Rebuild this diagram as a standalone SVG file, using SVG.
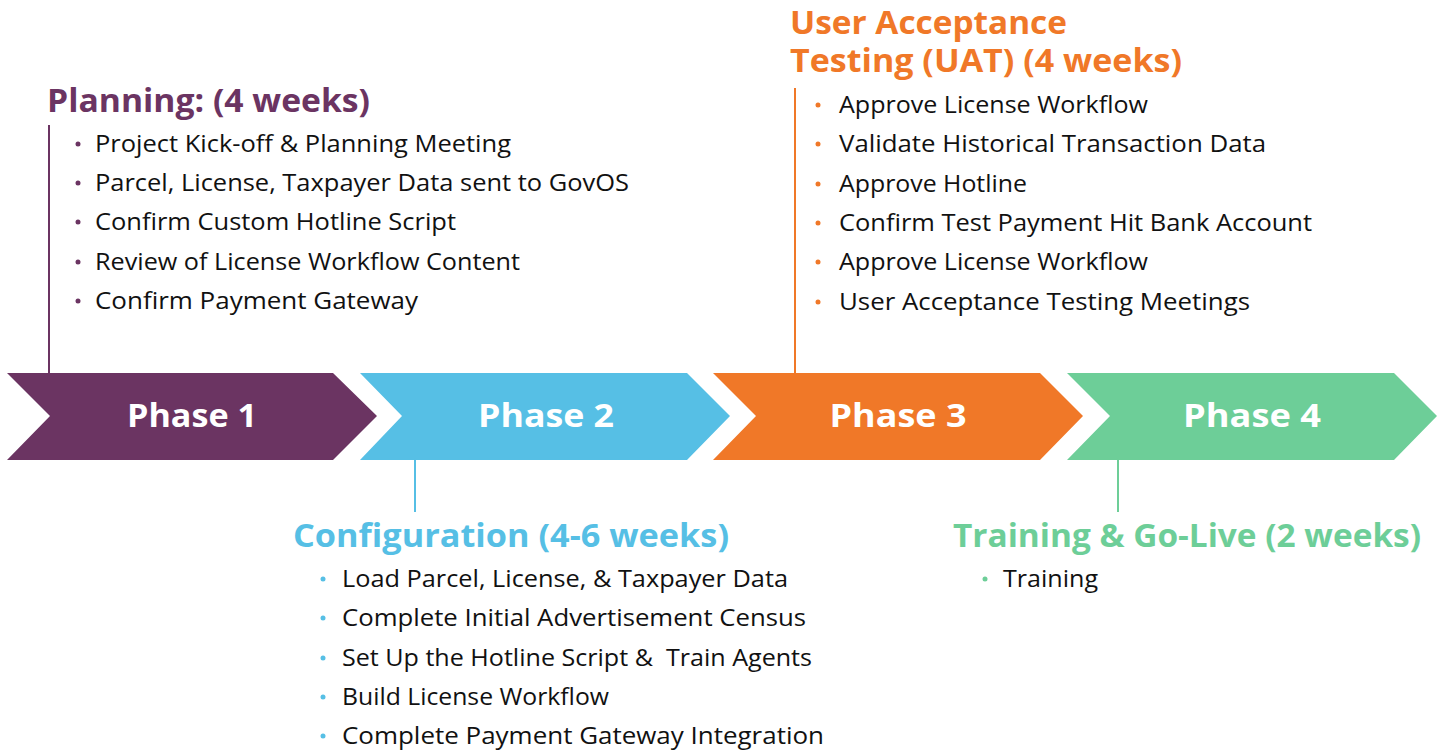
<svg xmlns="http://www.w3.org/2000/svg" width="1445" height="750" viewBox="0 0 1445 750">
<style>
.ph{font-family:"Open Sans","Liberation Sans",sans-serif;font-weight:700;font-size:33px;fill:#fff;text-anchor:middle}
.hd{font-family:"Open Sans","Liberation Sans",sans-serif;font-weight:700;font-size:32px}
.it{font-family:"Open Sans","Liberation Sans",sans-serif;font-size:24px;fill:#111}
.p1{fill:#6B3462}.p2{fill:#56BFE5}.p3{fill:#F07828}.p4{fill:#6DCE98}
.c1{stroke:#6B3462}.c2{stroke:#56BFE5}.c3{stroke:#F07828}.c4{stroke:#6DCE98}
</style>
<rect width="1445" height="750" fill="#fff"/>
<g id="connectors" stroke-width="2" fill="none">
<line class="c1" x1="49" y1="125" x2="49" y2="374"/>
<line class="c2" x1="415" y1="459" x2="415" y2="512"/>
<line class="c3" x1="795" y1="88" x2="795" y2="374"/>
<line class="c4" x1="1118" y1="459" x2="1118" y2="512"/>
</g>
<g id="phase1">
<polygon class="p1" points="7,373 333,373 377,416 333,460 7,460 50,416"/>
<text class="ph" x="192" y="427" textLength="130" lengthAdjust="spacingAndGlyphs">Phase 1</text>
</g>
<g id="phase2">
<polygon class="p2" points="360,373 687,373 730,416 687,460 360,460 402,416"/>
<text class="ph" x="546" y="427" textLength="136" lengthAdjust="spacingAndGlyphs">Phase 2</text>
</g>
<g id="phase3">
<polygon class="p3" points="713,373 1040,373 1083,416 1040,460 713,460 756,416"/>
<text class="ph" x="898" y="427" textLength="137" lengthAdjust="spacingAndGlyphs">Phase 3</text>
</g>
<g id="phase4">
<polygon class="p4" points="1067,373 1394,373 1437,416 1394,460 1067,460 1110,416"/>
<text class="ph" x="1252" y="427" textLength="138" lengthAdjust="spacingAndGlyphs">Phase 4</text>
</g>
<g id="planning">
<text class="hd p1" x="47" y="112" textLength="323" lengthAdjust="spacingAndGlyphs">Planning: (4 weeks)</text>
<g class="p1"><circle cx="78" cy="144" r="2.5"/><circle cx="78" cy="183" r="2.5"/><circle cx="78" cy="222" r="2.5"/><circle cx="78" cy="262" r="2.5"/><circle cx="78" cy="301" r="2.5"/></g>
<text class="it" x="95" y="152" textLength="416" lengthAdjust="spacingAndGlyphs">Project Kick-off &amp; Planning Meeting</text>
<text class="it" x="95" y="191" textLength="534" lengthAdjust="spacingAndGlyphs">Parcel, License, Taxpayer Data sent to GovOS</text>
<text class="it" x="95" y="230" textLength="361" lengthAdjust="spacingAndGlyphs">Confirm Custom Hotline Script</text>
<text class="it" x="95" y="270" textLength="425" lengthAdjust="spacingAndGlyphs">Review of License Workflow Content</text>
<text class="it" x="95" y="309" textLength="323" lengthAdjust="spacingAndGlyphs">Confirm Payment Gateway</text>
</g>
<g id="uat">
<text class="hd p3" x="790" y="34" textLength="277" lengthAdjust="spacingAndGlyphs">User Acceptance</text>
<text class="hd p3" x="790" y="72" textLength="392" lengthAdjust="spacingAndGlyphs">Testing (UAT) (4 weeks)</text>
<g class="p3"><circle cx="818" cy="105" r="2.5"/><circle cx="818" cy="144" r="2.5"/><circle cx="818" cy="184" r="2.5"/><circle cx="818" cy="223" r="2.5"/><circle cx="818" cy="262" r="2.5"/><circle cx="818" cy="302" r="2.5"/></g>
<text class="it" x="839" y="113" textLength="309" lengthAdjust="spacingAndGlyphs">Approve License Workflow</text>
<text class="it" x="839" y="152" textLength="427" lengthAdjust="spacingAndGlyphs">Validate Historical Transaction Data</text>
<text class="it" x="839" y="192" textLength="188" lengthAdjust="spacingAndGlyphs">Approve Hotline</text>
<text class="it" x="839" y="231" textLength="473" lengthAdjust="spacingAndGlyphs">Confirm Test Payment Hit Bank Account</text>
<text class="it" x="839" y="270" textLength="309" lengthAdjust="spacingAndGlyphs">Approve License Workflow</text>
<text class="it" x="839" y="310" textLength="411" lengthAdjust="spacingAndGlyphs">User Acceptance Testing Meetings</text>
</g>
<g id="configuration">
<text class="hd p2" x="293" y="547" textLength="436" lengthAdjust="spacingAndGlyphs">Configuration (4-6 weeks)</text>
<g class="p2"><circle cx="323" cy="579" r="2.5"/><circle cx="323" cy="618" r="2.5"/><circle cx="323" cy="658" r="2.5"/><circle cx="323" cy="697" r="2.5"/><circle cx="323" cy="736" r="2.5"/></g>
<text class="it" x="342" y="587" textLength="446" lengthAdjust="spacingAndGlyphs">Load Parcel, License, &amp; Taxpayer Data</text>
<text class="it" x="342" y="626" textLength="464" lengthAdjust="spacingAndGlyphs">Complete Initial Advertisement Census</text>
<text class="it" x="342" y="666" textLength="470" lengthAdjust="spacingAndGlyphs" xml:space="preserve">Set Up the Hotline Script &amp;  Train Agents</text>
<text class="it" x="342" y="705" textLength="267" lengthAdjust="spacingAndGlyphs">Build License Workflow</text>
<text class="it" x="342" y="744" textLength="482" lengthAdjust="spacingAndGlyphs">Complete Payment Gateway Integration</text>
</g>
<g id="training">
<text class="hd p4" x="953" y="547" textLength="468" lengthAdjust="spacingAndGlyphs">Training &amp; Go-Live (2 weeks)</text>
<circle class="p4" cx="985" cy="579" r="2.5"/>
<text class="it" x="1003" y="587" textLength="95" lengthAdjust="spacingAndGlyphs">Training</text>
</g>
</svg>
